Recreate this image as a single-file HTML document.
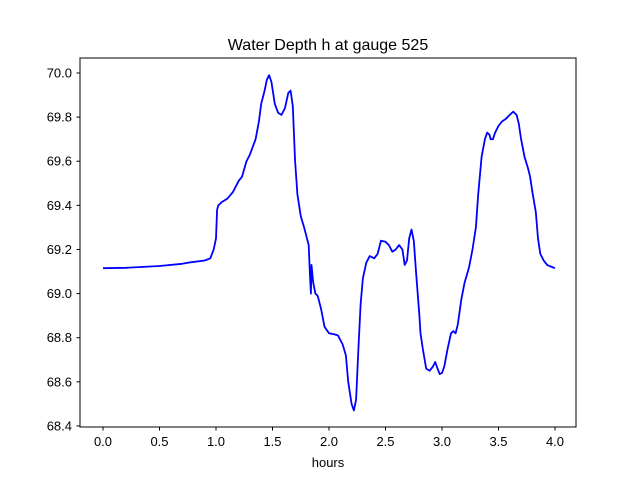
<!DOCTYPE html>
<html><head><meta charset="utf-8">
<style>
html,body{margin:0;padding:0;background:#fff;}
svg{display:block;font-family:"Liberation Sans","DejaVu Sans",sans-serif;}
</style></head>
<body>
<svg id="chart" width="640" height="480" viewBox="0 0 640 480" xmlns="http://www.w3.org/2000/svg">
<rect width="640" height="480" fill="#fff"/>
<text x="328" y="50" text-anchor="middle" font-size="16">Water Depth h at gauge 525</text>
<rect x="80" y="58" width="496" height="369" fill="none" stroke="#000" stroke-width="1"/>
<g id="xticks"></g>
<g id="yticks"></g>
<text x="328" y="467" text-anchor="middle" font-size="13">hours</text>
<path id="line" fill="none" stroke="#0000ff" stroke-width="1.8" stroke-linejoin="round"/>
</svg>
<script>
const hours=[0,0.2,0.5,0.7,0.75,0.9,0.95,0.98,1.0,1.01,1.02,1.05,1.1,1.15,1.2,1.23,1.27,1.3,1.35,1.38,1.4,1.43,1.45,1.47,1.49,1.52,1.55,1.58,1.61,1.64,1.66,1.68,1.7,1.72,1.75,1.78,1.8,1.82,1.83,1.84,1.845,1.86,1.88,1.9,1.93,1.96,2.0,2.05,2.08,2.12,2.15,2.17,2.2,2.22,2.24,2.26,2.28,2.3,2.33,2.36,2.4,2.43,2.46,2.5,2.53,2.56,2.59,2.62,2.65,2.67,2.69,2.71,2.73,2.75,2.77,2.8,2.81,2.83,2.86,2.89,2.92,2.94,2.96,2.98,3.0,3.02,3.05,3.08,3.1,3.12,3.14,3.17,3.2,3.24,3.27,3.3,3.32,3.35,3.38,3.4,3.42,3.43,3.45,3.47,3.5,3.53,3.56,3.6,3.63,3.66,3.68,3.7,3.73,3.76,3.78,3.8,3.83,3.85,3.87,3.9,3.93,3.95,4.0];
const depth=[69.115,69.117,69.125,69.135,69.14,69.15,69.16,69.2,69.25,69.38,69.40,69.415,69.43,69.46,69.51,69.53,69.6,69.63,69.7,69.78,69.86,69.92,69.97,69.99,69.96,69.86,69.82,69.81,69.84,69.91,69.92,69.85,69.6,69.45,69.35,69.3,69.26,69.22,69.1,69.0,69.13,69.05,69.0,68.99,68.93,68.85,68.82,68.815,68.81,68.77,68.72,68.6,68.5,68.47,68.52,68.75,68.95,69.07,69.14,69.17,69.16,69.18,69.24,69.235,69.22,69.19,69.2,69.22,69.2,69.13,69.15,69.25,69.29,69.24,69.1,68.9,68.82,68.75,68.66,68.65,68.67,68.69,68.66,68.635,68.64,68.67,68.75,68.82,68.83,68.82,68.86,68.97,69.05,69.12,69.2,69.3,69.45,69.62,69.7,69.73,69.72,69.70,69.7,69.73,69.76,69.78,69.79,69.81,69.825,69.81,69.77,69.7,69.62,69.57,69.53,69.46,69.37,69.25,69.18,69.15,69.13,69.125,69.115];
const xTickValues=[0,0.5,1,1.5,2,2.5,3,3.5,4];
const xTickLabels=["0.0","0.5","1.0","1.5","2.0","2.5","3.0","3.5","4.0"];
const yTickValues=[68.4,68.6,68.8,69.0,69.2,69.4,69.6,69.8,70.0];
const yTickLabels=["68.4","68.6","68.8","69.0","69.2","69.4","69.6","69.8","70.0"];

const X=v=>103+v*113;
const Y=v=>73+(70-v)*220.6;
const NS="http://www.w3.org/2000/svg";
const xg=document.getElementById('xticks'), yg=document.getElementById('yticks');
xTickValues.forEach((v,i)=>{
  const l=document.createElementNS(NS,'line');
  
  
  l.setAttribute('x1',X(v));l.setAttribute('x2',X(v));l.setAttribute('y1',427);l.setAttribute('y2',430.5);l.setAttribute('stroke','#000');
  xg.appendChild(l);
  const t=document.createElementNS(NS,'text');
  
  
  t.setAttribute('x',X(v));t.setAttribute('y',446);t.setAttribute('text-anchor','middle');t.setAttribute('font-size','13');
  t.textContent=xTickLabels[i];xg.appendChild(t);
});
yTickValues.forEach((v,i)=>{
  const l=document.createElementNS(NS,'line');
  
  
  l.setAttribute('x1',76.5);l.setAttribute('x2',80);l.setAttribute('y1',Y(v));l.setAttribute('y2',Y(v));l.setAttribute('stroke','#000');
  yg.appendChild(l);
  const t=document.createElementNS(NS,'text');
  
  
  t.setAttribute('x',72);t.setAttribute('y',Y(v)+4.5);t.setAttribute('text-anchor','end');t.setAttribute('font-size','13');
  t.textContent=yTickLabels[i];yg.appendChild(t);
});
document.getElementById('line').setAttribute('d',hours.map((h,i)=>(i?'L':'M')+X(h).toFixed(1)+' '+Y(depth[i]).toFixed(1)).join(' '));
</script>
</body></html>
